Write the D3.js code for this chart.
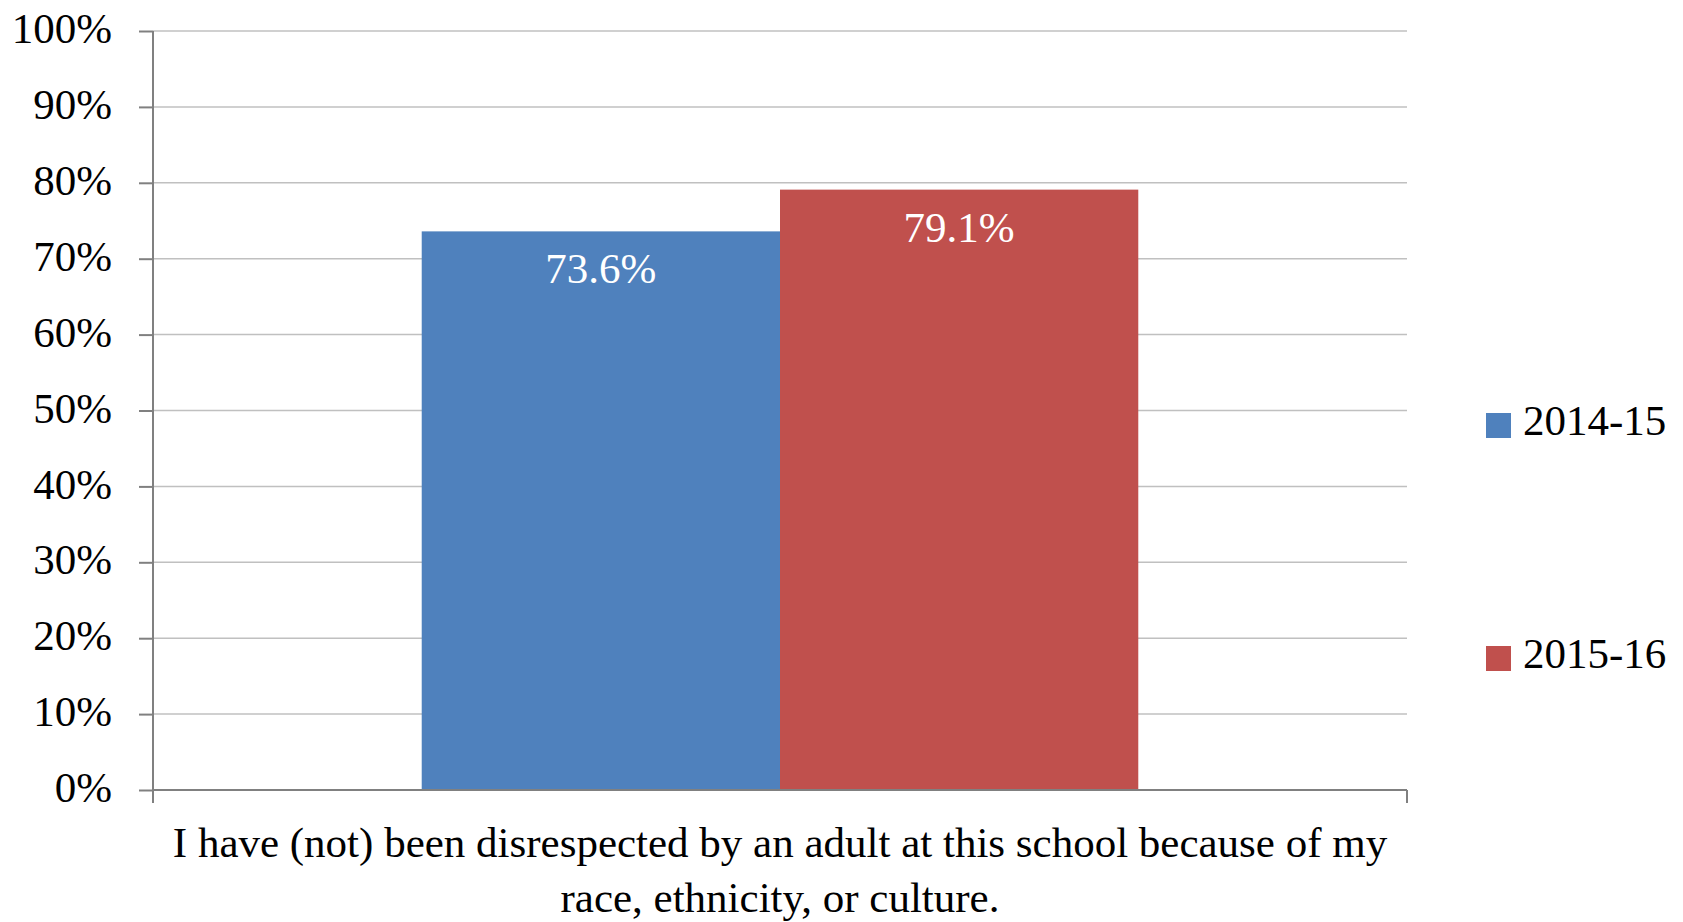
<!DOCTYPE html>
<html>
<head>
<meta charset="utf-8">
<script src="https://cdn.jsdelivr.net/npm/d3@7"></script>
<style>
  html, body { margin: 0; padding: 0; background: #ffffff; }
  svg { display: block; }
  text { font-family: "Liberation Serif", "DejaVu Serif", serif; }
</style>
</head>
<body>
<svg id="chart" width="1683" height="922"></svg>
<script>
const categories = ["I have (not) been disrespected by an adult at this school because of my race, ethnicity, or culture."];
const categoryLines = ["I have (not) been disrespected by an adult at this school because of my", "race, ethnicity, or culture."];
const seriesNames = ["2014-15", "2015-16"];
const seriesValues = [[73.6], [79.1]];
const seriesColors = ["#4F81BD", "#C0504D"];
const yTicks = [0, 10, 20, 30, 40, 50, 60, 70, 80, 90, 100];

const svg = d3.select("#chart");
const plot = { left: 153, right: 1407, top: 31, bottom: 790 };
const fontSize = 43;

const y = d3.scaleLinear().domain([0, 100]).range([plot.bottom, plot.top]);
const x0 = d3.scaleBand().domain(categories).range([plot.left, plot.right])
  .paddingInner(0).paddingOuter(0.375);
const x1 = d3.scaleBand().domain(seriesNames).range([0, x0.bandwidth()]).padding(0);

// gridlines
svg.append("g").selectAll("line").data(yTicks.filter(d => d > 0)).join("line")
  .attr("x1", plot.left).attr("x2", plot.right)
  .attr("y1", d => y(d)).attr("y2", d => y(d))
  .attr("stroke", "#C0C0C0").attr("stroke-width", 1.5);

// bars
const bars = [];
categories.forEach((c, ci) => {
  seriesNames.forEach((s, si) => {
    bars.push({ cat: c, series: s, value: seriesValues[si][ci], color: seriesColors[si] });
  });
});
svg.append("g").selectAll("rect").data(bars).join("rect")
  .attr("x", d => x0(d.cat) + x1(d.series))
  .attr("width", x1.bandwidth())
  .attr("y", d => y(d.value))
  .attr("height", d => y(0) - y(d.value))
  .attr("fill", d => d.color);

// bar labels
svg.append("g").selectAll("text").data(bars).join("text")
  .attr("x", d => x0(d.cat) + x1(d.series) + x1.bandwidth() / 2)
  .attr("y", d => y(d.value) + 52)
  .attr("text-anchor", "middle")
  .attr("fill", "#ffffff")
  .attr("font-size", fontSize)
  .text(d => d.value.toFixed(1) + "%");

// y axis
const yAxis = d3.axisLeft(y).tickValues(yTicks).tickSize(14).tickPadding(27)
  .tickFormat(d => d + "%");
const gy = svg.append("g").attr("transform", `translate(${plot.left},0)`).call(yAxis);
gy.select(".domain").attr("stroke", "#808080").attr("stroke-width", 2)
  .attr("d", `M0,${plot.top}V${plot.bottom}`);
gy.selectAll(".tick line").attr("stroke", "#808080").attr("stroke-width", 2);
gy.selectAll(".tick text").attr("font-size", fontSize).attr("fill", "#000")
  .attr("font-family", "Liberation Serif").attr("dy", "0.27em");

// x axis
const gx = svg.append("g").attr("transform", `translate(0,${plot.bottom})`);
gx.append("line").attr("x1", plot.left).attr("x2", plot.right)
  .attr("y1", 0).attr("y2", 0).attr("stroke", "#808080").attr("stroke-width", 2);
gx.selectAll("line.tk").data(x0.range()).join("line").attr("class", "tk")
  .attr("x1", d => d).attr("x2", d => d).attr("y1", 0).attr("y2", 13)
  .attr("stroke", "#808080").attr("stroke-width", 2);
const cx = x0(categories[0]) + x0.bandwidth() / 2;
gx.selectAll("text").data(categoryLines).join("text")
  .attr("x", cx).attr("y", (d, i) => 67 + i * 55)
  .attr("text-anchor", "middle").attr("font-size", fontSize).attr("fill", "#000")
  .text(d => d);

// legend
const legend = svg.append("g");
const legendY = [413, 646];
seriesNames.forEach((s, i) => {
  legend.append("rect").attr("x", 1486).attr("y", legendY[i]).attr("width", 25).attr("height", 25)
    .attr("fill", seriesColors[i]);
  legend.append("text").attr("x", 1523).attr("y", legendY[i] + 22)
    .attr("font-size", fontSize).attr("fill", "#000").text(s);
});
</script>
</body>
</html>
